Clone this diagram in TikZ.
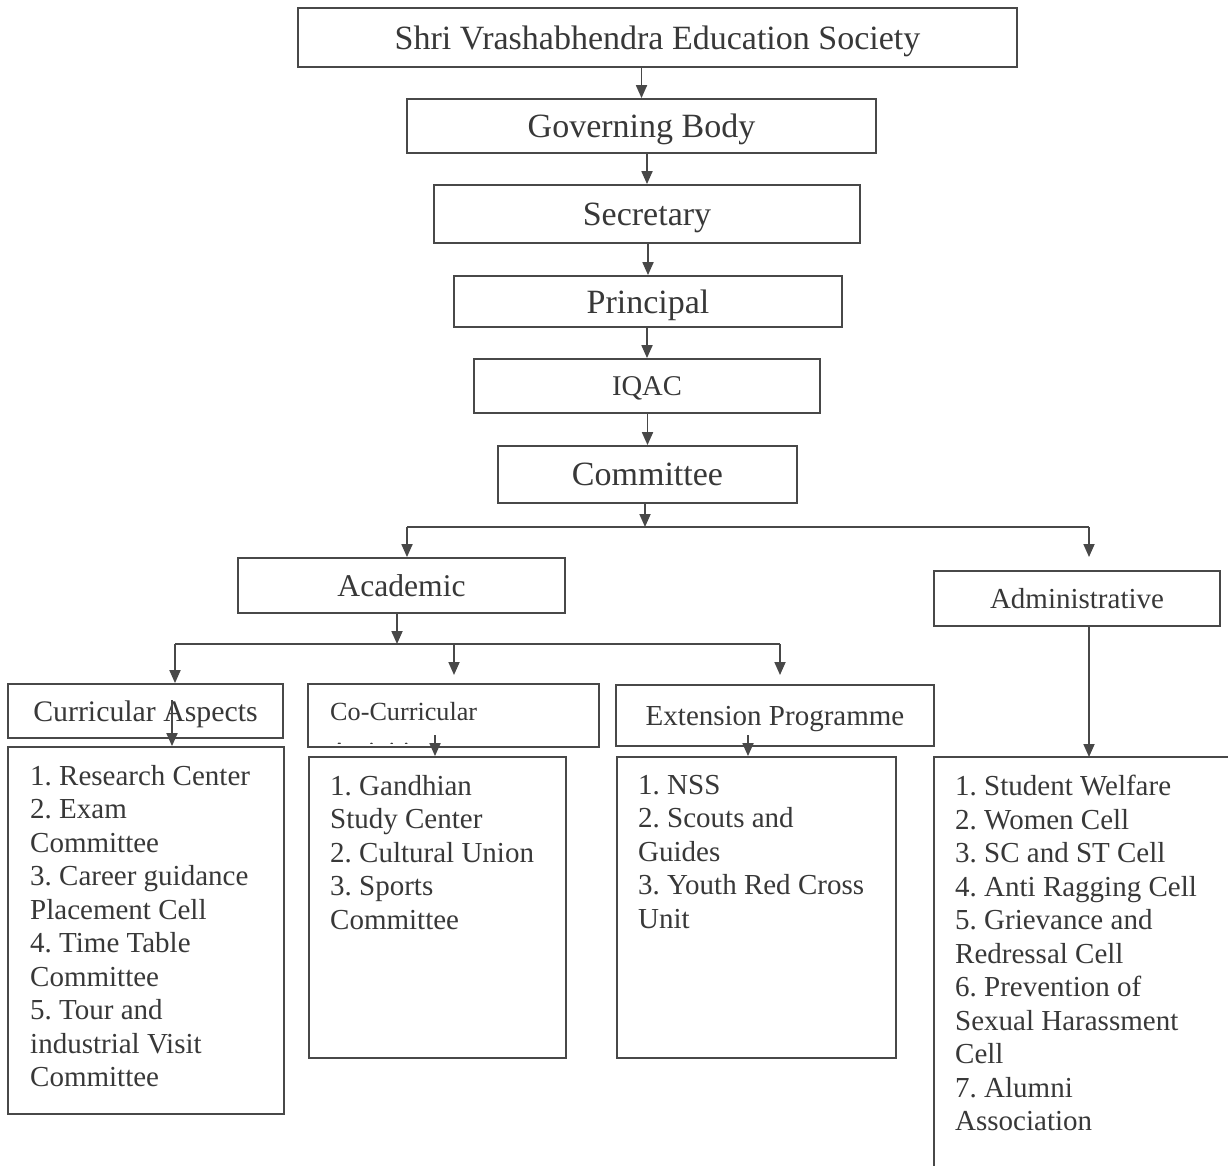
\documentclass[tikz,border=0pt]{standalone}
\usepackage{fontspec}
\setmainfont{Liberation Serif}
\usetikzlibrary{arrows.meta}
\definecolor{ln}{HTML}{484848}
\definecolor{tx}{HTML}{383838}
\frenchspacing
\begin{document}
\frenchspacing
\begin{tikzpicture}[x=1pt,y=-1pt,
 box/.style={draw=ln, line width=1.8pt, inner sep=0pt, text=tx, text depth=0pt},
 arr/.style={draw=ln, line width=1.8pt, -{Triangle[length=13pt,width=11pt]}},
 conn/.style={draw=ln, line width=1.8pt},
 lst/.style={inner sep=0pt, text=tx, align=left, anchor=north west, font=\fontsize{29}{33.5}\selectfont\frenchspacing},
 big/.style={font=\fontsize{34}{40}\selectfont},
 mid/.style={font=\fontsize{29}{34}\selectfont},
]
\path[use as bounding box, fill=white] (0,0) rectangle (1228,1165);

% top chain
\node[box, big, minimum width=719, minimum height=59] (soc) at (657.5,37.5) {Shri Vrashabhendra Education Society};
\node[box, big, minimum width=469, minimum height=54] (gb) at (641.5,126) {Governing Body};
\node[box, big, minimum width=426, minimum height=58] (sec) at (647,214) {Secretary};
\node[box, big, minimum width=388, minimum height=51] (prin) at (648,301.5) {Principal};
\node[box, minimum width=346, minimum height=54, font=\fontsize{28.6}{34}\selectfont] (iqac) at (647,386) {IQAC};
\node[box, big, minimum width=299, minimum height=57] (comm) at (647.5,474.5) {Committee};

\draw[arr] (soc.south -| gb.north) -- (gb.north);
\draw[arr] (gb.south -| sec.north) -- (sec.north);
\draw[arr] (sec.south -| prin.north) -- (prin.north);
\draw[arr] (prin.south -| iqac.north) -- (iqac.north);
\draw[arr] (iqac.south -| comm.north) -- (comm.north);

% second level
\node[box, minimum width=327, minimum height=55, font=\fontsize{31.6}{38}\selectfont] (acad) at (401.5,585.5) {Academic};
\node[box, mid, minimum width=286, minimum height=55] (admin) at (1077,598.5) {Administrative};

\coordinate (j1) at (645,527);
\coordinate (jL) at (407,527);
\coordinate (jR) at (1089,527);
\coordinate (admTip) at (1089,557);
\draw[arr] (comm.south -| j1) -- (j1);
\draw[conn] (jL) -- (jR);
\draw[arr] (jL) -- (jL |- acad.north);
\draw[arr] (jR) -- (admTip);

% third level
\node[box, minimum width=275, minimum height=54, font=\fontsize{29.8}{36}\selectfont] (cur) at (145.5,711) {Curricular Aspects};
\node[box, minimum width=291, minimum height=63] (coc) at (453.5,715.5) {};
\node[box, mid, minimum width=318, minimum height=61] (ext) at (775,715.5) {Extension Programme};
\node[inner sep=0pt, text=tx, anchor=base west, font=\fontsize{26.2}{31}\selectfont] (cocT) at (330,720) {Co-Curricular};
\begin{scope}
\clip (310,686) rectangle (597,743);
\node[inner sep=0pt, text=tx, anchor=base west, font=\fontsize{26.2}{31}\selectfont] (cocT2) at (330,760) {Activities};
\end{scope}

\coordinate (k) at (397,644);
\coordinate (kL) at (175,644);
\coordinate (kM) at (454,644);
\coordinate (kR) at (780,644);
\coordinate (cocTip) at (454,675);
\coordinate (extTip) at (780,675);
\draw[arr] (acad.south -| k) -- (k);
\draw[conn] (kL) -- (kR);
\draw[arr] (kL) -- (kL |- cur.north);
\draw[arr] (kM) -- (cocTip);
\draw[arr] (kR) -- (extTip);

% list boxes
\node[box, minimum width=276, minimum height=367] (curL) at (146,930.5) {};
\node[box, minimum width=257, minimum height=301] (cocL) at (437.5,907.5) {};
\node[box, minimum width=279, minimum height=301] (extL) at (756.5,907.5) {};
\coordinate (admTL) at (934,757);
\coordinate (admTR) at (1232,757);
\coordinate (admBL) at (934,1170);
\draw[conn] (admTR) -- (admTL) -- (admBL);

\coordinate (admA) at (1089,757);
\draw[arr] (admin.south -| admA) -- (admA);

\coordinate (c1) at (172,700);
\coordinate (c2) at (435,735);
\coordinate (c3) at (748,735);
\draw[arr] (c1) -- (c1 |- curL.north);
\draw[arr] (c2) -- (c2 |- cocL.north);
\draw[arr] (c3) -- (c3 |- extL.north);

% list texts
\node[lst] (curT) at (30,765) {1. Research Center\\2. Exam\\Committee\\3. Career guidance\\Placement Cell\\4. Time Table\\Committee\\5. Tour and\\industrial Visit\\Committee};
\node[lst] (cocTx) at (330,775) {1. Gandhian\\Study Center\\2. Cultural Union\\3. Sports\\Committee};
\node[lst] (extTx) at (638,775) {1. NSS\\2. Scouts and\\Guides\\3. Youth Red Cross\\Unit};
\node[lst] (admTx) at (955,775) {1. Student Welfare\\2. Women Cell\\3. SC and ST Cell\\4. Anti Ragging Cell\\5. Grievance and\\Redressal Cell\\6. Prevention of\\Sexual Harassment\\Cell\\7. Alumni\\Association};
\end{tikzpicture}
\end{document}
